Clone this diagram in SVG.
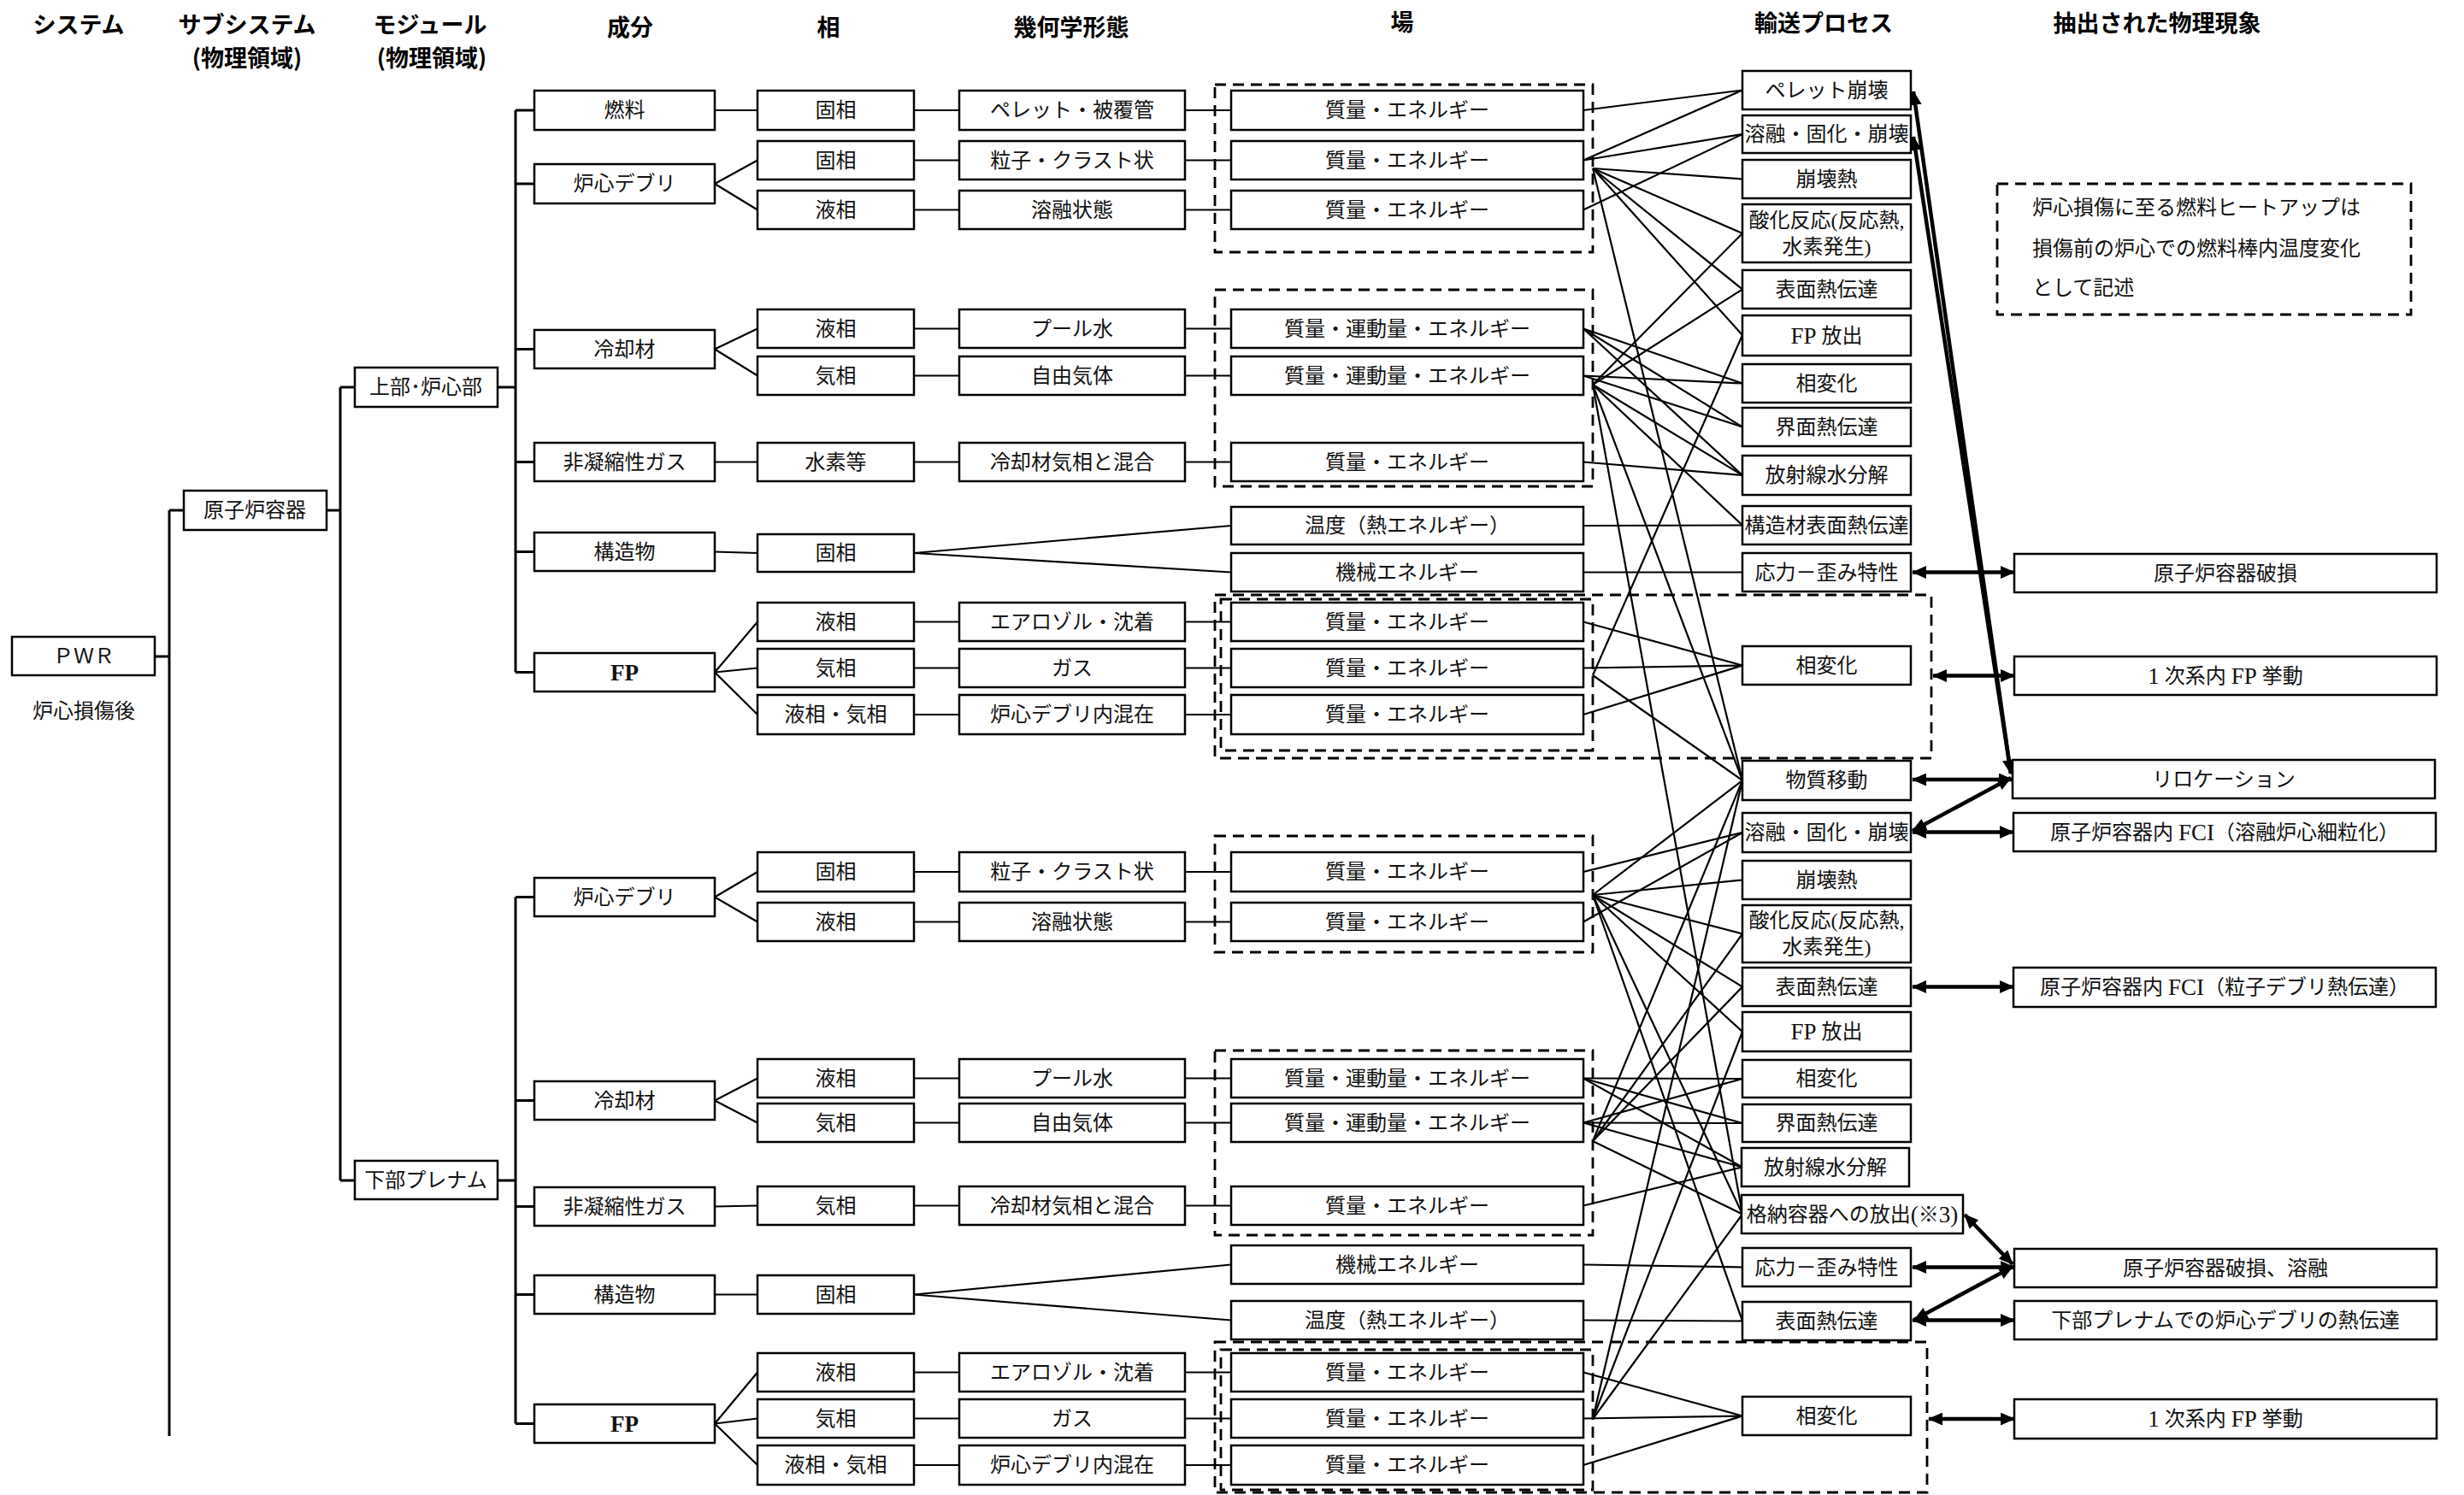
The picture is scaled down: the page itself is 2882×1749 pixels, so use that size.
<svg xmlns="http://www.w3.org/2000/svg" width="2882" height="1749" viewBox="0 0 2882 1749">
<style>
.bg{fill:#fff}
.box{fill:#fff;stroke:#000;stroke-width:2.5}
.dash{fill:none;stroke:#000;stroke-width:2.8;stroke-dasharray:13 8}
.t{font-family:"Liberation Serif","Noto Sans CJK JP",serif;font-size:24px;text-anchor:middle;dominant-baseline:central;fill:#111}
.tl{font-family:"Liberation Serif","Noto Sans CJK JP",serif;font-size:24px;text-anchor:start;dominant-baseline:central;fill:#111}
.lat{font-size:27px}
.h{font-family:"Noto Sans CJK JP",sans-serif;font-weight:bold;font-size:27px;text-anchor:middle;dominant-baseline:central;fill:#000}
.tree line{stroke:#000;stroke-width:3}
.ln line{stroke:#000;stroke-width:2.2}
.arr line{stroke:#000;stroke-width:4.5;marker-start:url(#ah);marker-end:url(#ah)}
</style>
<defs>
<marker id="ah" viewBox="0 0 16 14" refX="15" refY="7" markerWidth="17" markerHeight="15" markerUnits="userSpaceOnUse" orient="auto-start-reverse"><path d="M0,0 L16,7 L0,14 z" fill="#000"/></marker>
</defs>
<rect class="bg" x="0" y="0" width="2882" height="1749"/>

<g id="headers">
<text class="h" x="92" y="27">システム</text>
<text class="h" x="289" y="27">サブシステム</text>
<text class="h" x="289" y="66">(物理領域)</text>
<text class="h" x="503" y="27">モジュール</text>
<text class="h" x="505" y="66">(物理領域)</text>
<text class="h" x="737" y="30">成分</text>
<text class="h" x="969" y="30">相</text>
<text class="h" x="1253" y="30">幾何学形態</text>
<text class="h" x="1640" y="24">場</text>
<text class="h" x="2133" y="25">輸送プロセス</text>
<text class="h" x="2523" y="25">抽出された物理現象</text>
</g>

<g id="connectors">
<g class="tree">
<line x1="181" y1="768" x2="198" y2="768"/>
<line x1="198" y1="597" x2="198" y2="1680"/>
<line x1="198" y1="597" x2="215" y2="597"/>
<line x1="382" y1="597" x2="398" y2="597"/>
<line x1="398" y1="453" x2="398" y2="1381"/>
<line x1="398" y1="453" x2="415" y2="453"/>
<line x1="398" y1="1381" x2="415" y2="1381"/>
<line x1="582" y1="453" x2="603" y2="453"/>
<line x1="603" y1="129" x2="603" y2="786.5"/>
<line x1="603" y1="129" x2="625" y2="129"/>
<line x1="603" y1="215" x2="625" y2="215"/>
<line x1="603" y1="408.5" x2="625" y2="408.5"/>
<line x1="603" y1="540.5" x2="625" y2="540.5"/>
<line x1="603" y1="645.5" x2="625" y2="645.5"/>
<line x1="603" y1="786.5" x2="625" y2="786.5"/>
<line x1="582" y1="1381" x2="603" y2="1381"/>
<line x1="603" y1="1049.5" x2="603" y2="1665.5"/>
<line x1="603" y1="1049.5" x2="625" y2="1049.5"/>
<line x1="603" y1="1287.5" x2="625" y2="1287.5"/>
<line x1="603" y1="1411.5" x2="625" y2="1411.5"/>
<line x1="603" y1="1514.5" x2="625" y2="1514.5"/>
<line x1="603" y1="1665.5" x2="625" y2="1665.5"/>
</g>
<g class="ln">
<line x1="836" y1="129" x2="886" y2="129"/>
<line x1="836" y1="215" x2="886" y2="187.5"/>
<line x1="836" y1="215" x2="886" y2="245.5"/>
<line x1="836" y1="408.5" x2="886" y2="384.5"/>
<line x1="836" y1="408.5" x2="886" y2="439.5"/>
<line x1="836" y1="540.5" x2="886" y2="540.5"/>
<line x1="836" y1="645.5" x2="886" y2="647"/>
<line x1="836" y1="786.5" x2="886" y2="727.5"/>
<line x1="836" y1="786.5" x2="886" y2="781.5"/>
<line x1="836" y1="786.5" x2="886" y2="836"/>
<line x1="836" y1="1049.5" x2="886" y2="1020"/>
<line x1="836" y1="1049.5" x2="886" y2="1078.5"/>
<line x1="836" y1="1287.5" x2="886" y2="1261.5"/>
<line x1="836" y1="1287.5" x2="886" y2="1313.5"/>
<line x1="836" y1="1411.5" x2="886" y2="1410.5"/>
<line x1="836" y1="1514.5" x2="886" y2="1514.5"/>
<line x1="836" y1="1665.5" x2="886" y2="1605.5"/>
<line x1="836" y1="1665.5" x2="886" y2="1659.5"/>
<line x1="836" y1="1665.5" x2="886" y2="1714"/>
<line x1="1069" y1="129" x2="1122" y2="129"/>
<line x1="1069" y1="187.5" x2="1122" y2="187.5"/>
<line x1="1069" y1="245.5" x2="1122" y2="245.5"/>
<line x1="1069" y1="384.5" x2="1122" y2="384.5"/>
<line x1="1069" y1="439.5" x2="1122" y2="439.5"/>
<line x1="1069" y1="540.5" x2="1122" y2="540.5"/>
<line x1="1069" y1="727.5" x2="1122" y2="727.5"/>
<line x1="1069" y1="781.5" x2="1122" y2="781.5"/>
<line x1="1069" y1="836" x2="1122" y2="836"/>
<line x1="1069" y1="1020" x2="1122" y2="1020"/>
<line x1="1069" y1="1078.5" x2="1122" y2="1078.5"/>
<line x1="1069" y1="1261.5" x2="1122" y2="1261.5"/>
<line x1="1069" y1="1313.5" x2="1122" y2="1313.5"/>
<line x1="1069" y1="1410.5" x2="1122" y2="1410.5"/>
<line x1="1069" y1="1605.5" x2="1122" y2="1605.5"/>
<line x1="1069" y1="1659.5" x2="1122" y2="1659.5"/>
<line x1="1069" y1="1714" x2="1122" y2="1714"/>
<line x1="1069" y1="647" x2="1440" y2="615"/>
<line x1="1069" y1="647" x2="1440" y2="669.5"/>
<line x1="1069" y1="1514.5" x2="1440" y2="1479.5"/>
<line x1="1069" y1="1514.5" x2="1440" y2="1544.5"/>
<line x1="1386" y1="129" x2="1440" y2="129"/>
<line x1="1386" y1="187.5" x2="1440" y2="187.5"/>
<line x1="1386" y1="245.5" x2="1440" y2="245.5"/>
<line x1="1386" y1="384.5" x2="1440" y2="384.5"/>
<line x1="1386" y1="439.5" x2="1440" y2="439.5"/>
<line x1="1386" y1="540.5" x2="1440" y2="540.5"/>
<line x1="1386" y1="727.5" x2="1440" y2="727.5"/>
<line x1="1386" y1="781.5" x2="1440" y2="781.5"/>
<line x1="1386" y1="836" x2="1440" y2="836"/>
<line x1="1386" y1="1020" x2="1440" y2="1020"/>
<line x1="1386" y1="1078.5" x2="1440" y2="1078.5"/>
<line x1="1386" y1="1261.5" x2="1440" y2="1261.5"/>
<line x1="1386" y1="1313.5" x2="1440" y2="1313.5"/>
<line x1="1386" y1="1410.5" x2="1440" y2="1410.5"/>
<line x1="1386" y1="1605.5" x2="1440" y2="1605.5"/>
<line x1="1386" y1="1659.5" x2="1440" y2="1659.5"/>
<line x1="1386" y1="1714" x2="1440" y2="1714"/>
<line x1="1852" y1="129" x2="2038" y2="105.5"/>
<line x1="1852" y1="187.5" x2="2038" y2="105.5"/>
<line x1="1852" y1="187.5" x2="2038" y2="157"/>
<line x1="1852" y1="245.5" x2="2038" y2="157"/>
<line x1="1863" y1="197" x2="2038" y2="209.5"/>
<line x1="1863" y1="197" x2="2038" y2="273"/>
<line x1="1863" y1="197" x2="2038" y2="338.5"/>
<line x1="1863" y1="197" x2="2038" y2="392"/>
<line x1="1863" y1="197" x2="2038" y2="913"/>
<line x1="1852" y1="384.5" x2="2038" y2="448.5"/>
<line x1="1852" y1="384.5" x2="2038" y2="499.5"/>
<line x1="1852" y1="384.5" x2="2038" y2="556"/>
<line x1="1852" y1="439.5" x2="2038" y2="448.5"/>
<line x1="1852" y1="439.5" x2="2038" y2="499.5"/>
<line x1="1863" y1="450" x2="2038" y2="273"/>
<line x1="1863" y1="450" x2="2038" y2="338.5"/>
<line x1="1863" y1="450" x2="2038" y2="556"/>
<line x1="1863" y1="450" x2="2038" y2="614.5"/>
<line x1="1863" y1="450" x2="2038" y2="913"/>
<line x1="1863" y1="450" x2="2038" y2="1420.5"/>
<line x1="1852" y1="540.5" x2="2038" y2="556"/>
<line x1="1852" y1="615" x2="2038" y2="614.5"/>
<line x1="1852" y1="669.5" x2="2038" y2="669.5"/>
<line x1="1852" y1="727.5" x2="2038" y2="778.5"/>
<line x1="1852" y1="781.5" x2="2038" y2="778.5"/>
<line x1="1852" y1="836" x2="2038" y2="778.5"/>
<line x1="1863" y1="790" x2="2038" y2="392"/>
<line x1="1863" y1="790" x2="2038" y2="913"/>
<line x1="1852" y1="1020" x2="2038" y2="974"/>
<line x1="1852" y1="1078.5" x2="2038" y2="974"/>
<line x1="1863" y1="1047" x2="2038" y2="913"/>
<line x1="1863" y1="1047" x2="2038" y2="1029.5"/>
<line x1="1863" y1="1047" x2="2038" y2="1092.5"/>
<line x1="1863" y1="1047" x2="2038" y2="1154.5"/>
<line x1="1863" y1="1047" x2="2038" y2="1207"/>
<line x1="1863" y1="1047" x2="2038" y2="1420.5"/>
<line x1="1863" y1="1047" x2="2038" y2="1545.5"/>
<line x1="1852" y1="1261.5" x2="2038" y2="1262"/>
<line x1="1852" y1="1261.5" x2="2038" y2="1314"/>
<line x1="1852" y1="1261.5" x2="2038" y2="1365.5"/>
<line x1="1852" y1="1313.5" x2="2038" y2="1262"/>
<line x1="1852" y1="1313.5" x2="2038" y2="1314"/>
<line x1="1852" y1="1313.5" x2="2038" y2="1365.5"/>
<line x1="1863" y1="1335" x2="2038" y2="913"/>
<line x1="1863" y1="1335" x2="2038" y2="1092.5"/>
<line x1="1863" y1="1335" x2="2038" y2="1154.5"/>
<line x1="1863" y1="1335" x2="2038" y2="1420.5"/>
<line x1="1852" y1="1410.5" x2="2038" y2="1365.5"/>
<line x1="1852" y1="1479.5" x2="2038" y2="1482.5"/>
<line x1="1852" y1="1544.5" x2="2038" y2="1545.5"/>
<line x1="1852" y1="1605.5" x2="2038" y2="1656.5"/>
<line x1="1852" y1="1659.5" x2="2038" y2="1656.5"/>
<line x1="1852" y1="1714" x2="2038" y2="1656.5"/>
<line x1="1863" y1="1660" x2="2038" y2="913"/>
<line x1="1863" y1="1660" x2="2038" y2="1207"/>
<line x1="1863" y1="1660" x2="2038" y2="1420.5"/>
</g>
<g class="arr">
<line x1="2237" y1="669.5" x2="2356" y2="669.5"/>
<line x1="2261" y1="790.5" x2="2356" y2="790.5"/>
<line x1="2237" y1="912" x2="2354" y2="912"/>
<line x1="2237" y1="973.5" x2="2355" y2="973.5"/>
<line x1="2237" y1="972" x2="2352" y2="910"/>
<line x1="2238" y1="107" x2="2352" y2="905"/>
<line x1="2238" y1="160" x2="2352" y2="905"/>
<line x1="2237" y1="1154.5" x2="2355" y2="1154.5"/>
<line x1="2298" y1="1421" x2="2354" y2="1479"/>
<line x1="2237" y1="1482.5" x2="2356" y2="1482.5"/>
<line x1="2239" y1="1544" x2="2354" y2="1482"/>
<line x1="2237" y1="1544.5" x2="2356" y2="1544.5"/>
<line x1="2256" y1="1660" x2="2356" y2="1660"/>
</g>
</g>

<g id="field-groups">
<rect class="dash" x="1421" y="99" width="442" height="196"/>
<rect class="dash" x="1421" y="339" width="442" height="230"/>
<rect class="dash" x="1428" y="701" width="435" height="177"/>
<rect class="dash" x="1421" y="696" width="838" height="191"/>
<rect class="dash" x="1421" y="978" width="442" height="136"/>
<rect class="dash" x="1421" y="1229" width="442" height="216"/>
<rect class="dash" x="1428" y="1579" width="435" height="164"/>
<rect class="dash" x="1421" y="1570" width="833" height="176"/>
</g>

<g id="n-pwr"><rect class="box" x="14" y="745" width="167" height="45"/><text class="t" x="98" y="768">ＰＷＲ</text><text class="t" x="98" y="832">炉心損傷後</text></g>
<g id="n-rpv"><rect class="box" x="215" y="574" width="167" height="46"/><text class="t" x="298" y="597">原子炉容器</text></g>
<g id="n-upper"><rect class="box" x="415" y="430" width="167" height="46"/><text class="t" x="498" y="453">上部･炉心部</text></g>
<g id="n-lower"><rect class="box" x="415" y="1358" width="167" height="45"/><text class="t" x="498" y="1381">下部プレナム</text></g>

<g id="n-c-fuel"><rect class="box" x="625" y="106" width="211" height="46"/><text class="t" x="730.5" y="129">燃料</text></g>
<g id="n-c-debris-u"><rect class="box" x="625" y="192" width="211" height="46"/><text class="t" x="730.5" y="215">炉心デブリ</text></g>
<g id="n-c-coolant-u"><rect class="box" x="625" y="386" width="211" height="45"/><text class="t" x="730.5" y="408.5">冷却材</text></g>
<g id="n-c-ncg-u"><rect class="box" x="625" y="518" width="211" height="45"/><text class="t" x="730.5" y="540.5">非凝縮性ガス</text></g>
<g id="n-c-struct-u"><rect class="box" x="625" y="623" width="211" height="45"/><text class="t" x="730.5" y="645.5">構造物</text></g>
<g id="n-c-fp-u"><rect class="box" x="625" y="764" width="211" height="45"/><text class="t lat" x="730.5" y="786.5" font-weight="bold">FP</text></g>
<g id="n-c-debris-l"><rect class="box" x="625" y="1027" width="211" height="45"/><text class="t" x="730.5" y="1049.5">炉心デブリ</text></g>
<g id="n-c-coolant-l"><rect class="box" x="625" y="1265" width="211" height="45"/><text class="t" x="730.5" y="1287.5">冷却材</text></g>
<g id="n-c-ncg-l"><rect class="box" x="625" y="1389" width="211" height="45"/><text class="t" x="730.5" y="1411.5">非凝縮性ガス</text></g>
<g id="n-c-struct-l"><rect class="box" x="625" y="1492" width="211" height="45"/><text class="t" x="730.5" y="1514.5">構造物</text></g>
<g id="n-c-fp-l"><rect class="box" x="625" y="1643" width="211" height="45"/><text class="t lat" x="730.5" y="1665.5" font-weight="bold">FP</text></g>

<g id="n-p1"><rect class="box" x="886" y="106" width="183" height="46"/><text class="t" x="977.5" y="129">固相</text></g>
<g id="n-p2"><rect class="box" x="886" y="165" width="183" height="45"/><text class="t" x="977.5" y="187.5">固相</text></g>
<g id="n-p3"><rect class="box" x="886" y="223" width="183" height="45"/><text class="t" x="977.5" y="245.5">液相</text></g>
<g id="n-p4"><rect class="box" x="886" y="362" width="183" height="45"/><text class="t" x="977.5" y="384.5">液相</text></g>
<g id="n-p5"><rect class="box" x="886" y="417" width="183" height="45"/><text class="t" x="977.5" y="439.5">気相</text></g>
<g id="n-p6"><rect class="box" x="886" y="518" width="183" height="45"/><text class="t" x="977.5" y="540.5">水素等</text></g>
<g id="n-p7"><rect class="box" x="886" y="625" width="183" height="44"/><text class="t" x="977.5" y="647">固相</text></g>
<g id="n-p8"><rect class="box" x="886" y="705" width="183" height="45"/><text class="t" x="977.5" y="727.5">液相</text></g>
<g id="n-p9"><rect class="box" x="886" y="759" width="183" height="45"/><text class="t" x="977.5" y="781.5">気相</text></g>
<g id="n-p10"><rect class="box" x="886" y="813" width="183" height="46"/><text class="t" x="977.5" y="836">液相・気相</text></g>
<g id="n-p11"><rect class="box" x="886" y="997" width="183" height="46"/><text class="t" x="977.5" y="1020">固相</text></g>
<g id="n-p12"><rect class="box" x="886" y="1056" width="183" height="45"/><text class="t" x="977.5" y="1078.5">液相</text></g>
<g id="n-p13"><rect class="box" x="886" y="1239" width="183" height="45"/><text class="t" x="977.5" y="1261.5">液相</text></g>
<g id="n-p14"><rect class="box" x="886" y="1291" width="183" height="45"/><text class="t" x="977.5" y="1313.5">気相</text></g>
<g id="n-p15"><rect class="box" x="886" y="1388" width="183" height="45"/><text class="t" x="977.5" y="1410.5">気相</text></g>
<g id="n-p16"><rect class="box" x="886" y="1492" width="183" height="45"/><text class="t" x="977.5" y="1514.5">固相</text></g>
<g id="n-p17"><rect class="box" x="886" y="1583" width="183" height="45"/><text class="t" x="977.5" y="1605.5">液相</text></g>
<g id="n-p18"><rect class="box" x="886" y="1637" width="183" height="45"/><text class="t" x="977.5" y="1659.5">気相</text></g>
<g id="n-p19"><rect class="box" x="886" y="1691" width="183" height="46"/><text class="t" x="977.5" y="1714">液相・気相</text></g>

<g id="n-g1"><rect class="box" x="1122" y="106" width="264" height="46"/><text class="t" x="1254" y="129">ペレット・被覆管</text></g>
<g id="n-g2"><rect class="box" x="1122" y="165" width="264" height="45"/><text class="t" x="1254" y="187.5">粒子・クラスト状</text></g>
<g id="n-g3"><rect class="box" x="1122" y="223" width="264" height="45"/><text class="t" x="1254" y="245.5">溶融状態</text></g>
<g id="n-g4"><rect class="box" x="1122" y="362" width="264" height="45"/><text class="t" x="1254" y="384.5">プール水</text></g>
<g id="n-g5"><rect class="box" x="1122" y="417" width="264" height="45"/><text class="t" x="1254" y="439.5">自由気体</text></g>
<g id="n-g6"><rect class="box" x="1122" y="518" width="264" height="45"/><text class="t" x="1254" y="540.5">冷却材気相と混合</text></g>
<g id="n-g7"><rect class="box" x="1122" y="705" width="264" height="45"/><text class="t" x="1254" y="727.5">エアロゾル・沈着</text></g>
<g id="n-g8"><rect class="box" x="1122" y="759" width="264" height="45"/><text class="t" x="1254" y="781.5">ガス</text></g>
<g id="n-g9"><rect class="box" x="1122" y="813" width="264" height="46"/><text class="t" x="1254" y="836">炉心デブリ内混在</text></g>
<g id="n-g10"><rect class="box" x="1122" y="997" width="264" height="46"/><text class="t" x="1254" y="1020">粒子・クラスト状</text></g>
<g id="n-g11"><rect class="box" x="1122" y="1056" width="264" height="45"/><text class="t" x="1254" y="1078.5">溶融状態</text></g>
<g id="n-g12"><rect class="box" x="1122" y="1239" width="264" height="45"/><text class="t" x="1254" y="1261.5">プール水</text></g>
<g id="n-g13"><rect class="box" x="1122" y="1291" width="264" height="45"/><text class="t" x="1254" y="1313.5">自由気体</text></g>
<g id="n-g14"><rect class="box" x="1122" y="1388" width="264" height="45"/><text class="t" x="1254" y="1410.5">冷却材気相と混合</text></g>
<g id="n-g15"><rect class="box" x="1122" y="1583" width="264" height="45"/><text class="t" x="1254" y="1605.5">エアロゾル・沈着</text></g>
<g id="n-g16"><rect class="box" x="1122" y="1637" width="264" height="45"/><text class="t" x="1254" y="1659.5">ガス</text></g>
<g id="n-g17"><rect class="box" x="1122" y="1691" width="264" height="46"/><text class="t" x="1254" y="1714">炉心デブリ内混在</text></g>

<g id="n-f1"><rect class="box" x="1440" y="106" width="412" height="46"/><text class="t" x="1646" y="129">質量・エネルギー</text></g>
<g id="n-f2"><rect class="box" x="1440" y="165" width="412" height="45"/><text class="t" x="1646" y="187.5">質量・エネルギー</text></g>
<g id="n-f3"><rect class="box" x="1440" y="223" width="412" height="45"/><text class="t" x="1646" y="245.5">質量・エネルギー</text></g>
<g id="n-f4"><rect class="box" x="1440" y="362" width="412" height="45"/><text class="t" x="1646" y="384.5">質量・運動量・エネルギー</text></g>
<g id="n-f5"><rect class="box" x="1440" y="417" width="412" height="45"/><text class="t" x="1646" y="439.5">質量・運動量・エネルギー</text></g>
<g id="n-f6"><rect class="box" x="1440" y="518" width="412" height="45"/><text class="t" x="1646" y="540.5">質量・エネルギー</text></g>
<g id="n-f7"><rect class="box" x="1440" y="593" width="412" height="44"/><text class="t" x="1646" y="615">温度（熱エネルギー）</text></g>
<g id="n-f8"><rect class="box" x="1440" y="647" width="412" height="45"/><text class="t" x="1646" y="669.5">機械エネルギー</text></g>
<g id="n-f9"><rect class="box" x="1440" y="705" width="412" height="45"/><text class="t" x="1646" y="727.5">質量・エネルギー</text></g>
<g id="n-f10"><rect class="box" x="1440" y="759" width="412" height="45"/><text class="t" x="1646" y="781.5">質量・エネルギー</text></g>
<g id="n-f11"><rect class="box" x="1440" y="813" width="412" height="46"/><text class="t" x="1646" y="836">質量・エネルギー</text></g>
<g id="n-f12"><rect class="box" x="1440" y="997" width="412" height="46"/><text class="t" x="1646" y="1020">質量・エネルギー</text></g>
<g id="n-f13"><rect class="box" x="1440" y="1056" width="412" height="45"/><text class="t" x="1646" y="1078.5">質量・エネルギー</text></g>
<g id="n-f14"><rect class="box" x="1440" y="1239" width="412" height="45"/><text class="t" x="1646" y="1261.5">質量・運動量・エネルギー</text></g>
<g id="n-f15"><rect class="box" x="1440" y="1291" width="412" height="45"/><text class="t" x="1646" y="1313.5">質量・運動量・エネルギー</text></g>
<g id="n-f16"><rect class="box" x="1440" y="1388" width="412" height="45"/><text class="t" x="1646" y="1410.5">質量・エネルギー</text></g>
<g id="n-f17"><rect class="box" x="1440" y="1457" width="412" height="45"/><text class="t" x="1646" y="1479.5">機械エネルギー</text></g>
<g id="n-f18"><rect class="box" x="1440" y="1522" width="412" height="45"/><text class="t" x="1646" y="1544.5">温度（熱エネルギー）</text></g>
<g id="n-f19"><rect class="box" x="1440" y="1583" width="412" height="45"/><text class="t" x="1646" y="1605.5">質量・エネルギー</text></g>
<g id="n-f20"><rect class="box" x="1440" y="1637" width="412" height="45"/><text class="t" x="1646" y="1659.5">質量・エネルギー</text></g>
<g id="n-f21"><rect class="box" x="1440" y="1691" width="412" height="46"/><text class="t" x="1646" y="1714">質量・エネルギー</text></g>

<g id="n-t1"><rect class="box" x="2038" y="83" width="197" height="45"/><text class="t" x="2136.5" y="105.5">ペレット崩壊</text></g>
<g id="n-t2"><rect class="box" x="2038" y="135" width="197" height="44"/><text class="t" x="2136.5" y="157">溶融・固化・崩壊</text></g>
<g id="n-t3"><rect class="box" x="2038" y="187" width="197" height="45"/><text class="t" x="2136.5" y="209.5">崩壊熱</text></g>
<g id="n-t4"><rect class="box" x="2038" y="239" width="197" height="68"/><text class="t" x="2136.5" y="258">酸化反応(反応熱,</text><text class="t" x="2136.5" y="289">水素発生)</text></g>
<g id="n-t5"><rect class="box" x="2038" y="316" width="197" height="45"/><text class="t" x="2136.5" y="338.5">表面熱伝達</text></g>
<g id="n-t6"><rect class="box" x="2038" y="369" width="197" height="47"/><text class="t" x="2136.5" y="392.5"><tspan class="lat">FP</tspan> 放出</text></g>
<g id="n-t7"><rect class="box" x="2038" y="426" width="197" height="45"/><text class="t" x="2136.5" y="448.5">相変化</text></g>
<g id="n-t8"><rect class="box" x="2038" y="477" width="197" height="45"/><text class="t" x="2136.5" y="499.5">界面熱伝達</text></g>
<g id="n-t9"><rect class="box" x="2038" y="533" width="197" height="46"/><text class="t" x="2136.5" y="556">放射線水分解</text></g>
<g id="n-t10"><rect class="box" x="2038" y="592" width="197" height="45"/><text class="t" x="2136.5" y="614.5">構造材表面熱伝達</text></g>
<g id="n-t11"><rect class="box" x="2038" y="647" width="197" height="45"/><text class="t" x="2136.5" y="669.5">応力－歪み特性</text></g>
<g id="n-t12"><rect class="box" x="2038" y="756" width="197" height="45"/><text class="t" x="2136.5" y="778.5">相変化</text></g>
<g id="n-t13"><rect class="box" x="2038" y="890" width="197" height="46"/><text class="t" x="2136.5" y="913">物質移動</text></g>
<g id="n-t14"><rect class="box" x="2038" y="951" width="197" height="46"/><text class="t" x="2136.5" y="974">溶融・固化・崩壊</text></g>
<g id="n-t15"><rect class="box" x="2038" y="1007" width="197" height="45"/><text class="t" x="2136.5" y="1029.5">崩壊熱</text></g>
<g id="n-t16"><rect class="box" x="2038" y="1059" width="197" height="67"/><text class="t" x="2136.5" y="1077">酸化反応(反応熱,</text><text class="t" x="2136.5" y="1108">水素発生)</text></g>
<g id="n-t17"><rect class="box" x="2038" y="1132" width="197" height="45"/><text class="t" x="2136.5" y="1154.5">表面熱伝達</text></g>
<g id="n-t18"><rect class="box" x="2038" y="1184" width="197" height="46"/><text class="t" x="2136.5" y="1207"><tspan class="lat">FP</tspan> 放出</text></g>
<g id="n-t19"><rect class="box" x="2038" y="1240" width="197" height="44"/><text class="t" x="2136.5" y="1262">相変化</text></g>
<g id="n-t20"><rect class="box" x="2038" y="1292" width="197" height="44"/><text class="t" x="2136.5" y="1314">界面熱伝達</text></g>
<g id="n-t21"><rect class="box" x="2037" y="1343" width="196" height="45"/><text class="t" x="2135" y="1365.5">放射線水分解</text></g>
<g id="n-t22"><rect class="box" x="2037" y="1398" width="259" height="45"/><text class="t" x="2166.5" y="1420.5">格納容器への放出<tspan class="lat">(</tspan>※<tspan class="lat">3)</tspan></text></g>
<g id="n-t23"><rect class="box" x="2038" y="1460" width="197" height="45"/><text class="t" x="2136.5" y="1482.5">応力－歪み特性</text></g>
<g id="n-t24"><rect class="box" x="2038" y="1523" width="197" height="45"/><text class="t" x="2136.5" y="1545.5">表面熱伝達</text></g>
<g id="n-t25"><rect class="box" x="2038" y="1634" width="197" height="45"/><text class="t" x="2136.5" y="1656.5">相変化</text></g>

<g id="n-x1"><rect class="box" x="2356" y="648" width="494" height="45"/><text class="t" x="2603" y="670.5">原子炉容器破損</text></g>
<g id="n-x2"><rect class="box" x="2356" y="768" width="494" height="45"/><text class="t" x="2603" y="790.5"><tspan class="lat">1</tspan> 次系内 <tspan class="lat">FP</tspan> 挙動</text></g>
<g id="n-x3"><rect class="box" x="2354" y="889" width="494" height="45"/><text class="t" x="2601" y="911.5">リロケーション</text></g>
<g id="n-x4"><rect class="box" x="2355" y="951" width="494" height="45"/><text class="t" x="2602" y="973.5">原子炉容器内 <tspan class="lat">FCI</tspan>（溶融炉心細粒化）</text></g>
<g id="n-x5"><rect class="box" x="2355" y="1132" width="494" height="46"/><text class="t" x="2602" y="1155">原子炉容器内 <tspan class="lat">FCI</tspan>（粒子デブリ熱伝達）</text></g>
<g id="n-x6"><rect class="box" x="2356" y="1461" width="494" height="45"/><text class="t" x="2603" y="1483.5">原子炉容器破損、溶融</text></g>
<g id="n-x7"><rect class="box" x="2356" y="1522" width="494" height="45"/><text class="t" x="2603" y="1544.5">下部プレナムでの炉心デブリの熱伝達</text></g>
<g id="n-x8"><rect class="box" x="2356" y="1637" width="494" height="46"/><text class="t" x="2603" y="1660"><tspan class="lat">1</tspan> 次系内 <tspan class="lat">FP</tspan> 挙動</text></g>

<g id="n-note"><rect class="dash" x="2336" y="215" width="484" height="153"/><text class="tl" x="2377" y="243">炉心損傷に至る燃料ヒートアップは</text><text class="tl" x="2377" y="291">損傷前の炉心での燃料棒内温度変化</text><text class="tl" x="2377" y="337">として記述</text></g>
</svg>
